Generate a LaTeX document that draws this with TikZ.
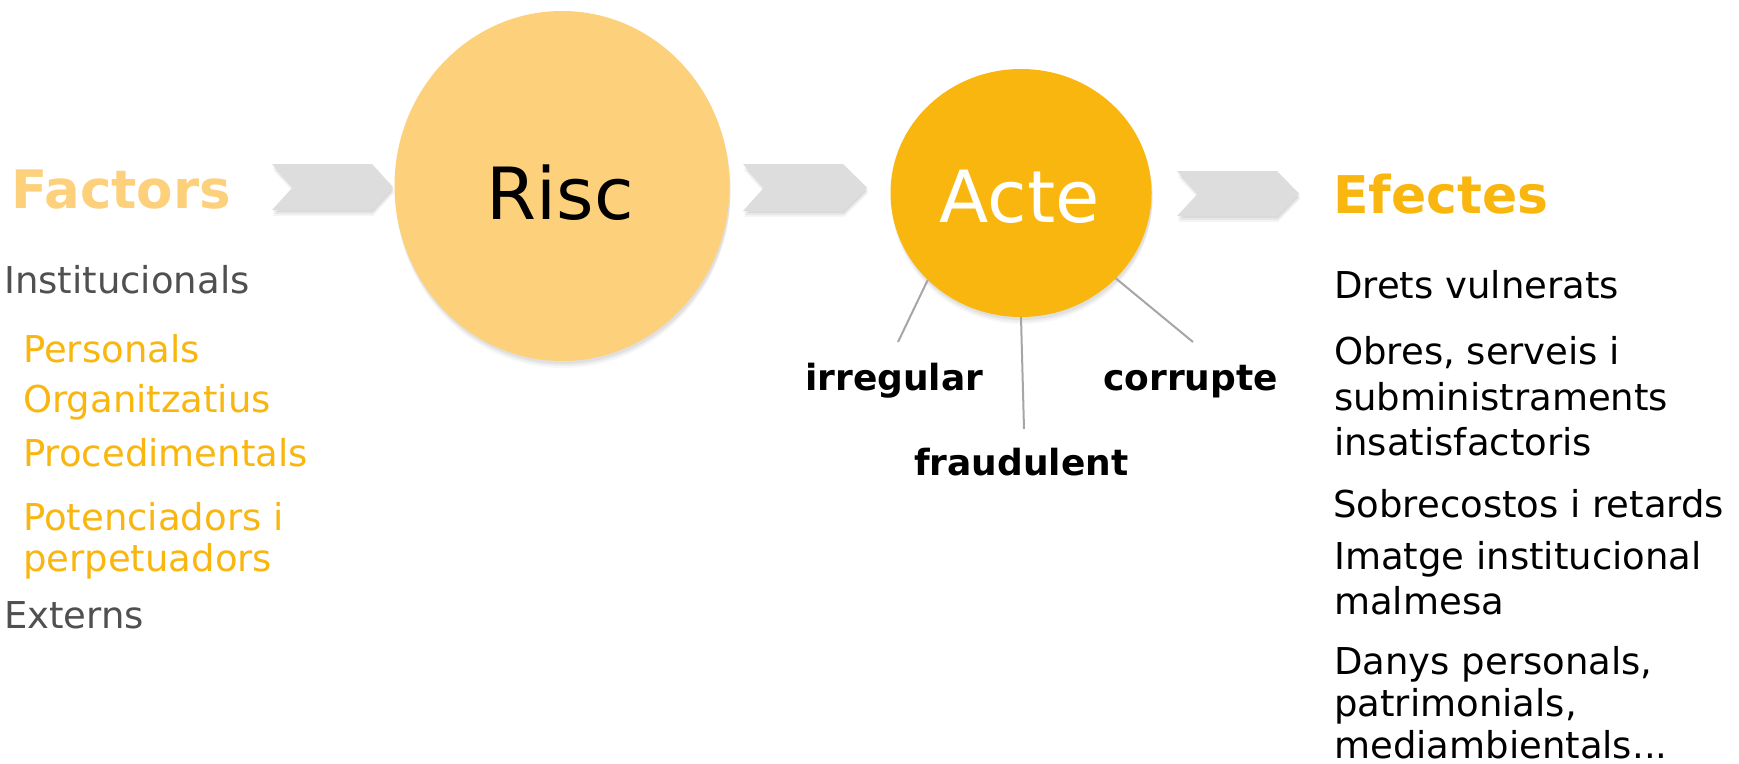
\documentclass[tikz,border=0pt]{standalone}
\usepackage{fontspec}
\setmainfont{DejaVu Sans}
\usetikzlibrary{shapes.geometric}
\definecolor{lightor}{HTML}{FDD17C}
\definecolor{darkor}{HTML}{F9B60F}
\definecolor{txtgrey}{HTML}{505050}
\definecolor{chevgrey}{HTML}{DDDDDD}
\definecolor{linegrey}{HTML}{A6A6A6}
\newcommand{\chevpath}[5]{(#1,#3) -- (#2-#5,#3) -- (#2,{(#3+#4)/2}) -- (#2-#5,#4) -- (#1,#4) -- (#1+21,{(#3+#4)/2}) -- cycle}
\begin{document}
\begin{tikzpicture}[x=1pt,y=-1pt,
  lbl/.style={anchor=base west, inner sep=0pt, font=\fontsize{37}{44}\selectfont},
  boldlbl/.style={anchor=base west, inner sep=0pt, font=\bfseries\fontsize{36}{43}\selectfont, text=black},
  heading/.style={anchor=base west, inner sep=0pt, font=\bfseries\fontsize{53}{60}\selectfont},
  bigword/.style={anchor=base, inner sep=0pt, font=\fontsize{72}{80}\selectfont},
  bubble/.style={ellipse, inner sep=0pt},
  chevfill/.style={fill=chevgrey},
  shadowlayer/.style={fill=black, opacity=#1},
  spoke/.style={draw=linegrey, line width=2pt}
]
\fill[white] (0,0) rectangle (1739,763);
\useasboundingbox (0,0) rectangle (1739,763);

% shadows of the bubbles
\foreach \d/\o in {7/0.03,5/0.04,3/0.05}{
  \fill[shadowlayer=\o] (562+1,186+\d) ellipse [x radius=167.5, y radius=175];
  \fill[shadowlayer=\o] (1021+1,193+\d) ellipse [x radius=130.5, y radius=124];
}

% bubbles
\node[bubble, fill=lightor, minimum width=335pt, minimum height=350pt] (risc) at (562,186) {};
\node[bubble, fill=darkor, minimum width=261pt, minimum height=248pt] (acte) at (1021,193) {};
\node[bigword, text=black] (risctxt) at (560,219) {Risc};
\node[bigword, text=white] (actetxt) at (1020,222) {Acte};

% chevrons with shadows
\foreach \d/\o in {6/0.04,4/0.05,2/0.06}{
  \fill[shadowlayer=\o, shift={(1,\d)}] \chevpath{272}{393}{164}{210}{21};
  \fill[shadowlayer=\o, shift={(1,\d)}] \chevpath{743}{867}{164}{211}{24};
  \fill[shadowlayer=\o, shift={(1,\d)}] \chevpath{1177}{1299}{171}{216}{22};
}
\fill[chevfill] \chevpath{272}{393}{164}{210}{21};
\fill[chevfill] \chevpath{743}{867}{164}{211}{24};
\fill[chevfill] \chevpath{1177}{1299}{171}{216}{22};

% headings
\node[heading, text=lightor] (factors) at (11,208) {Factors};
\node[heading, text=darkor, font=\bfseries\fontsize{52}{60}\selectfont] (efectes) at (1333,213) {Efectes};

% left list
\node[lbl, text=txtgrey] (inst) at (4,293) {Institucionals};
\node[lbl, text=darkor] (pers) at (23,362) {Personals};
\node[lbl, text=darkor] (org) at (23,412) {Organitzatius};
\node[lbl, text=darkor] (proc) at (23,466) {Procedimentals};
\node[lbl, text=darkor] (pot1) at (23,530) {Potenciadors i};
\node[lbl, text=darkor] (pot2) at (23,571) {perpetuadors};
\node[lbl, text=txtgrey] (ext) at (4,628) {Externs};

% act qualifiers
\coordinate (irrEnd) at (898,342);
\coordinate (fraEnd) at (1024,429);
\coordinate (corEnd) at (1193,342);
\draw[spoke] (acte.223.7) -- (irrEnd);
\draw[spoke] (acte.south) -- (fraEnd);
\draw[spoke] (acte.-42.8) -- (corEnd);
\node[boldlbl] (irr) at (805,390) {irregular};
\node[boldlbl] (cor) at (1103,390) {corrupte};
\node[boldlbl] (fra) at (914,475) {fraudulent};

% right list
\node[lbl, text=black] (e1) at (1334,298) {Drets vulnerats};
\node[lbl, text=black] (e2a) at (1334,364) {Obres, serveis i};
\node[lbl, text=black] (e2b) at (1334,410) {subministraments};
\node[lbl, text=black] (e2c) at (1334,455) {insatisfactoris};
\node[lbl, text=black] (e3) at (1333,517) {Sobrecostos i retards};
\node[lbl, text=black] (e4a) at (1334,569) {Imatge institucional};
\node[lbl, text=black] (e4b) at (1334,614) {malmesa};
\node[lbl, text=black] (e5a) at (1334,674) {Danys personals,};
\node[lbl, text=black] (e5b) at (1334,716) {patrimonials,};
\node[lbl, text=black] (e5c) at (1334,758) {mediambientals...};
\end{tikzpicture}
\end{document}
